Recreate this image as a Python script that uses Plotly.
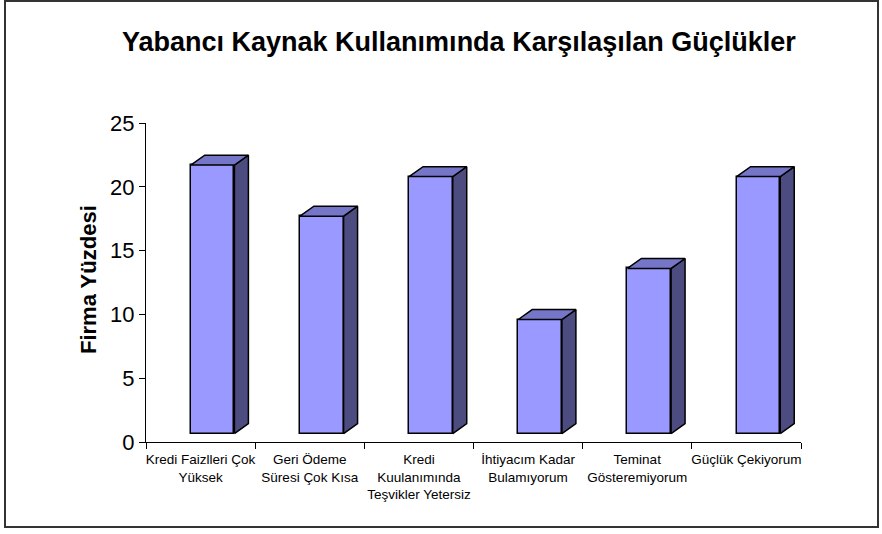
import plotly.graph_objects as go

categories = [
    "Kredi Faizlleri Çok<br>Yüksek",
    "Geri Ödeme<br>Süresi Çok Kısa",
    "Kredi<br>Kuulanımında<br>Teşvikler Yetersiz",
    "İhtiyacım Kadar<br>Bulamıyorum",
    "Teminat<br>Gösteremiyorum",
    "Güçlük Çekiyorum",
]
values = [21.7, 17.7, 20.8, 9.6, 13.6, 20.8]
y_ticks = [0, 5, 10, 15, 20, 25]

FRONT = "#9999FF"
TOP = "#7676C8"
SIDE = "#4C4C80"
FONT = "Liberation Sans, Arial, sans-serif"

# 3D geometry (in axis units)
floor = 0.66
left_off, right_off = 0.41, 0.81
dx, dy = 0.128, 0.78

fig = go.Figure()
centers = [i + (left_off + right_off) / 2 for i in range(len(values))]
fig.add_trace(go.Bar(
    x=centers, y=[v - floor for v in values], base=floor,
    width=right_off - left_off,
    marker=dict(color=FRONT, line=dict(color="black", width=1.5)),
    hoverinfo="skip", showlegend=False,
))
for i, v in enumerate(values):
    L, R = i + left_off, i + right_off
    fig.add_trace(go.Scatter(
        x=[R, R + dx, R + dx, R, R], y=[floor, floor + dy, v + dy, v, floor],
        mode="lines", fill="toself", fillcolor=SIDE,
        line=dict(color="black", width=1.5), hoverinfo="skip", showlegend=False,
    ))
    fig.add_trace(go.Scatter(
        x=[L, L + dx, R + dx, R, L], y=[v, v + dy, v + dy, v, v],
        mode="lines", fill="toself", fillcolor=TOP,
        line=dict(color="black", width=1.5), hoverinfo="skip", showlegend=False,
    ))

W, H = 882, 534
ml, mr, mt, mb = 146, 81, 123, 92
pw, ph = W - ml - mr, H - mt - mb

def px(xp):
    return (xp - ml) / pw

def py(yp):
    return (H - mb - yp) / ph

fig.update_layout(
    width=W, height=H,
    margin=dict(l=ml, r=mr, t=mt, b=mb, autoexpand=False),
    paper_bgcolor="white", plot_bgcolor="white",
    font=dict(family=FONT, color="black"),
    bargap=0,
    xaxis=dict(
        range=[0, len(values)], showgrid=False, zeroline=False,
        showline=True, linecolor="black", linewidth=1,
        tickmode="array", tickvals=[i + 0.5 for i in range(len(values))],
        ticktext=categories, ticks="", tickfont=dict(size=13.5, family=FONT),
        ticklabelstandoff=5,
        minor=dict(tickmode="array", tickvals=list(range(len(values) + 1)),
                   ticks="outside", ticklen=6, tickcolor="black", tickwidth=1),
        fixedrange=True,
    ),
    yaxis=dict(
        range=[0, 25], showgrid=False, zeroline=False,
        showline=True, linecolor="black", linewidth=1,
        tickmode="array", tickvals=y_ticks, ticks="outside", ticklen=6,
        tickcolor="black", tickfont=dict(size=22, family=FONT),
        fixedrange=True,
    ),
    shapes=[dict(type="rect", xref="paper", yref="paper",
                 x0=px(5), x1=px(878), y0=py(527), y1=py(1),
                 line=dict(color="#333333", width=2), layer="below")],
    annotations=[
        dict(text="<b>Yabancı Kaynak Kullanımında Karşılaşılan Güçlükler</b>",
             xref="paper", yref="paper", x=px(459), y=py(42),
             xanchor="center", yanchor="middle", showarrow=False,
             font=dict(size=27, family=FONT)),
        dict(text="<b>Firma Yüzdesi</b>", textangle=-90,
             xref="paper", yref="paper", x=px(88), y=py(280),
             xanchor="center", yanchor="middle", showarrow=False,
             font=dict(size=22, family=FONT)),
    ],
)

fig.write_html("out.html", config={"displayModeBar": False},
               post_script="document.body.style.margin='0px';document.body.style.overflow='hidden';")
